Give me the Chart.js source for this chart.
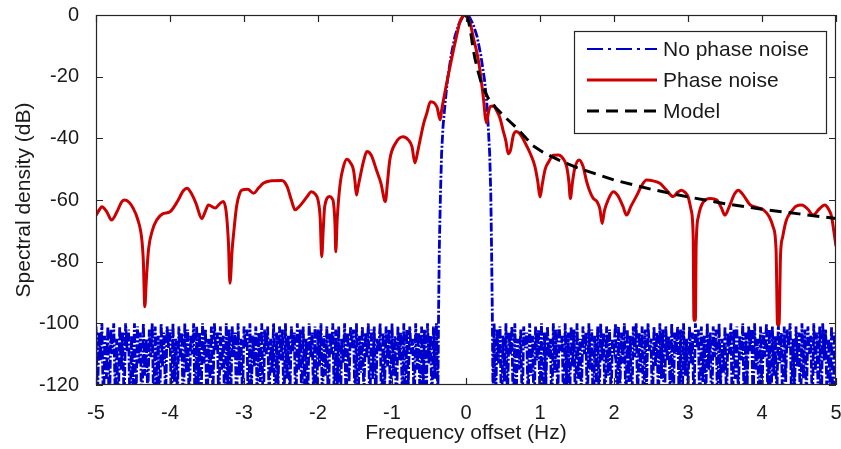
<!DOCTYPE html>
<html>
<head>
<meta charset="utf-8">
<script src="https://cdn.jsdelivr.net/npm/chart.js@4.4.1/dist/chart.umd.min.js"></script>
<style>
  html, body { margin: 0; padding: 0; background: #fff; }
  canvas { display: block; }
</style>
</head>
<body>
<canvas id="psdChart" width="841" height="449"></canvas>
<script>
// --- data ---
const xTickValues = [-5, -4, -3, -2, -1, 0, 1, 2, 3, 4, 5];
const yTickValues = [-120, -100, -80, -60, -40, -20, 0];

// ideal spectrum: main lobe (Hz, dB)
const idealLobe = [
  [-0.38, -125], [-0.37, -95], [-0.36, -75], [-0.345, -58], [-0.33, -45], [-0.31, -36],
  [-0.28, -28], [-0.25, -21], [-0.2, -13], [-0.15, -7], [-0.1, -3.2], [-0.05, -0.8], [0, 0],
  [0.05, -0.8], [0.1, -3.2], [0.15, -7], [0.2, -13], [0.25, -21], [0.28, -28], [0.3, -36],
  [0.32, -45], [0.335, -58], [0.345, -75], [0.355, -95], [0.365, -125]
];

// ideal spectrum: numerical noise floor, sampled every 0.02 Hz (dB, below -120 is off the plot)
const floorStep = 0.02;
const floorLeftStart = -5;
const floorLeftDb = [
  -101, -126, -103, -112, -100, -129, -104, -118, -101, -133,
  -102, -110, -100, -124, -105, -131, -101, -115, -103, -127,
  -100, -109, -102, -130, -104, -120, -100, -126, -101, -113,
  -103, -134, -100, -117, -105, -125, -102, -111, -100, -129,
  -101, -122, -104, -132, -100, -114, -103, -127, -101, -108,
  -102, -130, -100, -119, -105, -125, -101, -112, -103, -133,
  -100, -116, -102, -128, -104, -110, -100, -131, -101, -121,
  -103, -126, -100, -113, -102, -134, -105, -118, -101, -124,
  -100, -109, -103, -129, -101, -115, -104, -132, -100, -120,
  -102, -127, -101, -111, -103, -130, -100, -117, -105, -125,
  -101, -108, -102, -133, -100, -122, -104, -114, -101, -128,
  -103, -119, -100, -131, -102, -110, -101, -126, -105, -116,
  -100, -134, -103, -121, -101, -112, -102, -129, -100, -118,
  -104, -125, -101, -109, -103, -132, -100, -115, -102, -127,
  -101, -120, -105, -130, -100, -111, -103, -124, -101, -133,
  -102, -114, -100, -128, -104, -117, -101, -131, -103, -110,
  -100, -126, -102, -122, -101, -135, -105, -113, -100, -129,
  -103, -119, -101, -108, -102, -127, -100, -132, -104, -116,
  -101, -124, -103, -111, -100, -130, -102, -118, -101, -126,
  -105, -109, -100, -133, -103, -121, -101, -114, -102, -128,
  -100, -117, -104, -131, -101, -112, -103, -125, -100, -134,
  -102, -120, -101, -110, -105, -129, -100, -115, -103, -127,
  -101, -122, -102, -132, -100, -113, -104, -126, -101, -118,
  -100
];
const floorRightStart = 0.38;
const floorRightDb = [
  -100, -128, -102, -113, -101, -131, -104, -119, -100, -126,
  -103, -110, -101, -133, -100, -122, -105, -115, -102, -129,
  -101, -108, -103, -127, -100, -117, -104, -132, -101, -112,
  -102, -125, -100, -135, -103, -120, -101, -111, -105, -130,
  -100, -116, -102, -126, -101, -109, -104, -133, -100, -121,
  -103, -128, -101, -114, -102, -131, -100, -118, -105, -124,
  -101, -110, -103, -129, -100, -115, -102, -134, -104, -120,
  -101, -127, -100, -112, -103, -130, -101, -117, -102, -125,
  -105, -108, -100, -132, -101, -122, -103, -113, -100, -128,
  -102, -119, -104, -131, -101, -111, -100, -126, -103, -116,
  -101, -133, -102, -121, -100, -109, -105, -129, -101, -114,
  -103, -127, -100, -118, -102, -134, -101, -112, -104, -124,
  -100, -130, -103, -110, -101, -125, -102, -132, -100, -117,
  -105, -122, -101, -113, -103, -128, -100, -108, -102, -131,
  -101, -119, -104, -126, -100, -115, -103, -133, -101, -111,
  -102, -129, -100, -121, -105, -116, -101, -127, -103, -110,
  -100, -134, -102, -118, -101, -124, -104, -112, -100, -130,
  -103, -120, -101, -109, -102, -128, -100, -115, -105, -132,
  -101, -123, -103, -111, -100, -126, -102, -135, -101, -117,
  -104, -125, -100, -113, -103, -130, -101, -119, -102, -108,
  -100, -127, -105, -122, -101, -114, -103, -133, -100, -118,
  -102, -126, -101, -110, -104, -129, -100, -116, -103, -124,
  -101, -131, -100, -112, -102, -128, -105, -120, -101, -134,
  -103, -115
];

// measured spectrum with phase noise (Hz, dB)
const phaseNoise = [
  [-5, -65], [-4.95, -63], [-4.92, -62.2], [-4.85, -64], [-4.79, -66.5], [-4.72, -64],
  [-4.65, -60.5], [-4.61, -60], [-4.55, -60.8], [-4.5, -62.6], [-4.44, -66], [-4.38, -73],
  [-4.36, -80], [-4.34, -94.6], [-4.32, -86], [-4.29, -76], [-4.24, -70], [-4.18, -66.5],
  [-4.1, -64.5], [-4.0, -63.8], [-3.9, -60.5], [-3.82, -57], [-3.77, -56.2], [-3.72, -57.5],
  [-3.65, -61], [-3.57, -66], [-3.52, -63.5], [-3.48, -61.6], [-3.39, -62.6], [-3.32, -61],
  [-3.28, -60.5], [-3.24, -64], [-3.21, -74], [-3.19, -87], [-3.16, -76], [-3.14, -70.8],
  [-3.1, -62], [-3.06, -58], [-3.03, -56.8], [-2.95, -56.5], [-2.87, -57.8], [-2.8, -56],
  [-2.74, -54.6], [-2.65, -53.8], [-2.49, -53.7], [-2.42, -55.5], [-2.36, -60], [-2.31, -63.2],
  [-2.25, -62], [-2.15, -59], [-2.09, -57.3], [-2.04, -58], [-2.0, -60], [-1.97, -66],
  [-1.95, -78.4], [-1.93, -70], [-1.91, -62.2], [-1.84, -58.9], [-1.81, -59.5], [-1.79, -61],
  [-1.77, -68], [-1.76, -76.8], [-1.74, -66], [-1.70, -54.6], [-1.66, -49.5], [-1.61, -46.8],
  [-1.56, -48], [-1.52, -50.3], [-1.50, -54], [-1.48, -58.4], [-1.46, -56], [-1.43, -52.4],
  [-1.38, -47], [-1.34, -44.3], [-1.28, -45.5], [-1.21, -50.3], [-1.15, -54.5], [-1.09, -60.5],
  [-1.06, -54], [-1.03, -47], [-0.95, -41.5], [-0.85, -39.5], [-0.78, -40.5], [-0.73, -42.7],
  [-0.69, -48], [-0.65, -44], [-0.62, -40.5], [-0.57, -35], [-0.53, -31.9], [-0.48, -28.1],
  [-0.43, -28.5], [-0.39, -30], [-0.35, -34], [-0.33, -31], [-0.3, -27], [-0.26, -22],
  [-0.21, -16], [-0.17, -11.4], [-0.12, -6], [-0.08, -2], [-0.04, -0.5], [0, 0],
  [0.03, -1.2], [0.07, -4], [0.1, -7.5], [0.14, -11.4], [0.18, -16.5], [0.21, -22],
  [0.24, -28], [0.26, -33], [0.28, -35], [0.3, -32], [0.33, -29.7], [0.37, -29.5],
  [0.41, -30.8], [0.46, -33.5], [0.5, -37.3], [0.54, -41], [0.57, -45], [0.6, -44],
  [0.64, -39], [0.68, -37.8], [0.73, -38.6], [0.8, -41.5], [0.87, -45], [0.93, -49],
  [0.97, -54], [1.0, -59], [1.03, -55], [1.07, -50], [1.12, -47.5], [1.18, -45.5],
  [1.25, -45.4], [1.31, -46.5], [1.36, -49.2], [1.39, -54], [1.41, -59.5], [1.44, -54],
  [1.47, -49.7], [1.53, -47], [1.58, -49], [1.63, -54], [1.67, -57], [1.72, -59.5],
  [1.77, -60.5], [1.81, -63], [1.84, -67.6], [1.87, -63.5], [1.92, -60], [1.99, -57.3],
  [2.05, -58.5], [2.12, -62], [2.17, -64.9], [2.23, -62], [2.31, -58.4], [2.37, -55.5],
  [2.44, -53.5], [2.53, -53.8], [2.62, -54.6], [2.7, -56.5], [2.8, -58.9], [2.86, -57.5],
  [2.91, -56.8], [2.96, -57.5], [3.0, -58.9], [3.04, -63], [3.07, -72], [3.08, -99],
  [3.1, -99], [3.11, -75], [3.14, -65.4], [3.21, -60.5], [3.3, -59.5], [3.39, -60],
  [3.45, -62.5], [3.5, -64.9], [3.56, -62], [3.63, -58], [3.68, -56.8], [3.75, -58.5],
  [3.84, -61.6], [3.94, -62.5], [4.02, -63.2], [4.1, -65.5], [4.15, -68.7], [4.19, -76],
  [4.21, -100.5], [4.23, -100.5], [4.25, -78], [4.28, -71.9], [4.33, -66.5], [4.38, -64.3],
  [4.46, -62], [4.54, -61.6], [4.62, -63], [4.69, -64.9], [4.77, -63], [4.85, -61.6],
  [4.9, -63], [4.94, -65.4], [4.97, -70], [5, -75]
];

// model curve (Hz, dB)
const model = [
  [0, 0], [0.03, -1.5], [0.06, -5], [0.09, -10], [0.12, -14], [0.16, -18], [0.2, -21.5],
  [0.25, -24.5], [0.3, -27], [0.4, -30], [0.5, -32.5], [0.7, -37], [0.9, -42.3], [1.04, -44.5],
  [1.25, -47], [1.5, -49.5], [2.0, -53.5], [2.5, -56.5], [3.0, -59], [3.5, -61.2], [4.0, -63],
  [4.5, -64.5], [5, -66]
];

const toPoints = pairs => pairs.map(([x, y]) => ({ x, y }));
const floorPoints = (start, values) => values.map((y, i) => ({ x: start + i * floorStep, y }));

const idealPoints = [
  ...floorPoints(floorLeftStart, floorLeftDb),
  ...toPoints(idealLobe),
  ...floorPoints(floorRightStart, floorRightDb),
];

const FONT = "'Liberation Sans', Arial, sans-serif";
const TEXT = '#1a1a1a';

// box round the axes with inward ticks on all four sides
const frameTicks = {
  id: 'frameTicks',
  afterDatasetsDraw(chart) {
    const { ctx, chartArea: a, scales: { x, y } } = chart;
    const len = 7;
    ctx.save();
    ctx.strokeStyle = '#262626';
    ctx.lineWidth = 1.2;
    ctx.strokeRect(a.left + 0.5, a.top + 0.5, a.width - 1, a.height - 1);
    ctx.beginPath();
    x.ticks.forEach(t => {
      const px = Math.round(x.getPixelForValue(t.value)) + 0.5;
      ctx.moveTo(px, a.bottom); ctx.lineTo(px, a.bottom - len);
      ctx.moveTo(px, a.top); ctx.lineTo(px, a.top + len);
    });
    y.ticks.forEach(t => {
      const py = Math.round(y.getPixelForValue(t.value)) + 0.5;
      ctx.moveTo(a.left, py); ctx.lineTo(a.left + len, py);
      ctx.moveTo(a.right, py); ctx.lineTo(a.right - len, py);
    });
    ctx.stroke();
    ctx.restore();
  }
};

// matlab style legend box in the upper right corner
const boxLegend = {
  id: 'boxLegend',
  afterDraw(chart) {
    const { ctx, chartArea: a } = chart;
    const w = 252, h = 102;
    const left = a.right - 10 - w, top = a.top + 16;
    ctx.save();
    ctx.fillStyle = '#fff';
    ctx.fillRect(left, top, w, h);
    ctx.strokeStyle = '#262626';
    ctx.lineWidth = 1.2;
    ctx.strokeRect(left + 0.5, top + 0.5, w, h);
    chart.data.datasets.forEach((ds, i) => {
      const rowY = top + 18 + i * 31;
      ctx.beginPath();
      ctx.setLineDash(ds.legendDash || ds.borderDash || []);
      ctx.strokeStyle = ds.borderColor;
      ctx.lineWidth = ds.legendWidth || ds.borderWidth;
      ctx.moveTo(left + 13, rowY);
      ctx.lineTo(left + 83, rowY);
      ctx.stroke();
      ctx.setLineDash([]);
      ctx.fillStyle = TEXT;
      ctx.font = `21px ${FONT}`;
      ctx.textBaseline = 'middle';
      ctx.fillText(ds.label, left + 89, rowY + 1);
    });
    ctx.restore();
  }
};

new Chart(document.getElementById('psdChart'), {
  type: 'line',
  data: {
    datasets: [
      {
        label: 'No phase noise',
        data: idealPoints,
        borderColor: '#0000cc',
        borderWidth: 2.8,
        borderDash: [9, 2, 2, 2],
        legendDash: [16, 5, 3, 5],
        legendWidth: 2.2,
        order: 2,
      },
      {
        label: 'Phase noise',
        data: toPoints(phaseNoise),
        borderColor: '#cc0000',
        borderWidth: 3,
        cubicInterpolationMode: 'monotone',
        order: 1,
      },
      {
        label: 'Model',
        data: toPoints(model),
        borderColor: '#000000',
        borderWidth: 3,
        borderDash: [12, 7],
        order: 0,
      },
    ],
  },
  options: {
    responsive: false,
    animation: false,
    elements: { point: { radius: 0 }, line: { tension: 0, fill: false } },
    layout: { padding: { top: 15, right: 5, left: 0, bottom: 0 } },
    plugins: { legend: { display: false }, tooltip: { enabled: false } },
    scales: {
      x: {
        type: 'linear',
        min: -5,
        max: 5,
        afterBuildTicks: s => { s.ticks = xTickValues.map(value => ({ value })); },
        ticks: { color: TEXT, font: { family: FONT, size: 20 }, padding: 8, maxRotation: 0 },
        grid: { display: false },
        border: { display: false },
        title: {
          display: true, text: 'Frequency offset (Hz)', color: TEXT,
          font: { family: FONT, size: 21 }, padding: { top: 0, bottom: 3 },
        },
        afterFit: s => { s.height = 64; s.paddingLeft = 0; s.paddingRight = 0; },
      },
      y: {
        type: 'linear',
        min: -120,
        max: 0,
        afterBuildTicks: s => { s.ticks = yTickValues.map(value => ({ value })); },
        ticks: { color: TEXT, font: { family: FONT, size: 20 }, padding: 9 },
        grid: { display: false },
        border: { display: false },
        title: {
          display: true, text: 'Spectral density (dB)', color: TEXT,
          font: { family: FONT, size: 21 }, padding: { top: 12, bottom: 0 },
        },
        afterFit: s => { s.width = 96; s.paddingTop = 0; s.paddingBottom = 0; },
      },
    },
  },
  plugins: [frameTicks, boxLegend],
});
</script>
</body>
</html>
